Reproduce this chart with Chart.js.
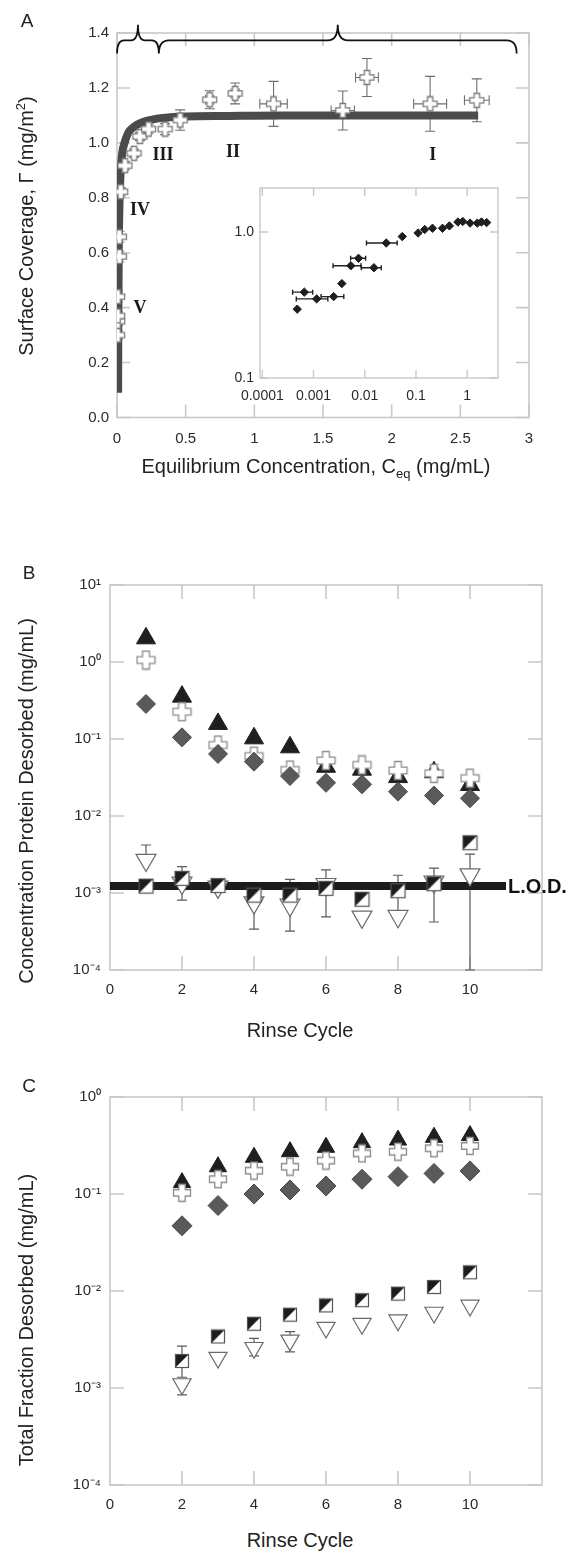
<!DOCTYPE html>
<html>
<head>
<meta charset="utf-8">
<script src="https://cdn.jsdelivr.net/npm/chart.js@4.4.1/dist/chart.umd.min.js"></script>
<style>
  body { margin: 0; background: #fff; }
  #page { position: relative; width: 568px; height: 1558px; overflow: hidden;
          font-family: "Liberation Sans", Arial, sans-serif; color: #222; }
  #page canvas { position: absolute; }
  .ytitle, .xtitle, .letter { position: absolute; white-space: nowrap; line-height: 1; }
  .ytitle { font-size: 20px; transform: translate(-50%, -50%) rotate(-90deg); }
  .xtitle { font-size: 20px; transform: translate(-50%, -50%); }
  .letter { font-size: 19px; transform: translate(-50%, -50%); }
  sup, sub { font-size: 13px; line-height: 0; }
</style>
</head>
<body>
<div id="page">
  <canvas id="chartA" width="568" height="480" style="left:0;top:0"></canvas>
  <canvas id="chartInset" width="320" height="240" style="left:190px;top:170px"></canvas>
  <canvas id="chartB" width="568" height="480" style="left:0;top:540px"></canvas>
  <canvas id="chartC" width="568" height="460" style="left:0;top:1060px"></canvas>

  <div class="letter" style="left:27px;top:20px">A</div>
  <div class="letter" style="left:29px;top:572px">B</div>
  <div class="letter" style="left:29px;top:1085px">C</div>

  <div class="ytitle" style="left:26px;top:226px">Surface Coverage, Γ (mg/m<sup>2</sup>)</div>
  <div class="xtitle" style="left:316px;top:466px">Equilibrium Concentration, C<sub>eq</sub> (mg/mL)</div>
  <div class="ytitle" style="left:26px;top:801px">Concentration Protein Desorbed (mg/mL)</div>
  <div class="xtitle" style="left:300px;top:1030px">Rinse Cycle</div>
  <div class="ytitle" style="left:26px;top:1320px">Total Fraction Desorbed (mg/mL)</div>
  <div class="xtitle" style="left:300px;top:1540px">Rinse Cycle</div>
</div>

<script>
// ---- isotherm (panel A) ----
const isoC = [0.005, 0.005, 0.005, 0.005, 0.017, 0.017, 0.027, 0.058, 0.124, 0.167,
              0.23, 0.35, 0.46, 0.675, 0.86, 1.14, 1.644, 1.82, 2.28, 2.62];
const isoGamma = [0.30, 0.35, 0.37, 0.44, 0.586, 0.658, 0.822, 0.917, 0.962, 1.023,
                  1.05, 1.05, 1.083, 1.157, 1.18, 1.142, 1.118, 1.238, 1.142, 1.155];
const isoCErr = [0, 0, 0, 0, 0, 0, 0, 0, 0, 0, 0, 0, 0.012, 0.03, 0.03, 0.1, 0.085, 0.083, 0.12, 0.09];
const isoGammaErr = [0.015, 0.015, 0.015, 0.02, 0.02, 0.02, 0.015, 0.015, 0.015, 0.015,
                     0.015, 0.02, 0.037, 0.033, 0.038, 0.082, 0.071, 0.069, 0.1, 0.078];
// fitted isotherm
const fitC = [0.008, 0.01, 0.013, 0.018, 0.025, 0.037, 0.055, 0.08, 0.11, 0.143,
              0.19, 0.24, 0.3, 0.385, 0.5, 0.8, 1.2, 1.8, 2.63];
const fitGamma = [0.09, 0.4, 0.62, 0.78, 0.88, 0.96, 1.0, 1.035, 1.053, 1.065,
                  1.076, 1.083, 1.089, 1.093, 1.096, 1.098, 1.1, 1.1, 1.1];
const regionNames = ["V", "IV", "III", "II", "I"];
const regionC = [0.167, 0.167, 0.335, 0.844, 2.3];
const regionGamma = [0.399, 0.756, 0.956, 0.967, 0.956];
const braceSpans = [[0, 0.305], [0.305, 2.91]];
const xTicksA = [0, 0.5, 1, 1.5, 2, 2.5, 3];
const yTicksA = [0, 0.2, 0.4, 0.6, 0.8, 1.0, 1.2, 1.4];

// ---- inset, log-log ----
const insetC = [4.8e-4, 6.6e-4, 1.15e-3, 2.47e-3, 3.57e-3, 5.35e-3, 7.55e-3, 1.51e-2, 2.63e-2, 5.4e-2,
                0.11, 0.148, 0.21, 0.33, 0.45, 0.66, 0.82, 1.14, 1.58, 1.9, 2.4];
const insetGamma = [0.296, 0.387, 0.348, 0.361, 0.443, 0.587, 0.66, 0.569, 0.84, 0.93,
                    0.984, 1.04, 1.06, 1.06, 1.1, 1.17, 1.18, 1.15, 1.15, 1.17, 1.16];
const insetCLo = [null, 3.9e-4, 4.6e-4, 1.4e-3, null, 2.4e-3, 5.3e-3, 8.6e-3, 1.08e-2, null,
                  null, null, null, null, null, null, null, null, null, null, null];
const insetCHi = [null, 9.6e-4, 1.9e-3, 3.9e-3, null, 8.4e-3, 1.04e-2, 2.1e-2, 4.3e-2, null,
                  null, null, null, null, null, null, null, null, null, null, null];
const xTicksInset = [1e-4, 1e-3, 1e-2, 0.1, 1];
const yTicksInset = [0.1, 1];

// ---- protein desorbed per rinse (panel B) ----
const rinseB = [1, 2, 3, 4, 5, 6, 7, 8, 9, 10];
const desTri = [2.03, 0.355, 0.157, 0.102, 0.078, 0.0436, 0.04, 0.032, 0.037, 0.0253];
const desCross = [1.06, 0.226, 0.0835, 0.06, 0.0395, 0.0525, 0.046, 0.039, 0.0358, 0.031];
const desDiamond = [0.285, 0.105, 0.064, 0.0508, 0.033, 0.027, 0.0258, 0.0207, 0.0184, 0.017];
const desSquare = [1.23e-3, 1.55e-3, 1.25e-3, 9.4e-4, 9.4e-4, 1.15e-3, 8.3e-4, 1.07e-3, 1.32e-3, 4.5e-3];
const desInvTri = [2.68e-3, 1.35e-3, 1.2e-3, 7.5e-4, 7e-4, 1.3e-3, 4.9e-4, 5e-4, 1.4e-3, 1.73e-3];
const desInvTriLo = [null, 8.1e-4, 1.15e-3, 3.4e-4, 3.2e-4, 4.9e-4, null, null, 4.2e-4, 1e-4];
const desInvTriHi = [4.2e-3, 2.2e-3, 1.3e-3, null, 1.5e-3, 2e-3, null, 1.7e-3, 2.1e-3, 3.2e-3];
const lodValue = 1.23e-3;
const lodSpan = [0, 11];
const yTicksB = [1e-4, 1e-3, 1e-2, 1e-1, 1, 10];

// ---- cumulative fraction desorbed (panel C) ----
const rinseC = [2, 3, 4, 5, 6, 7, 8, 9, 10];
const totTri = [0.131, 0.191, 0.239, 0.273, 0.303, 0.338, 0.36, 0.384, 0.40];
const totCross = [0.103, 0.142, 0.174, 0.191, 0.221, 0.262, 0.273, 0.296, 0.313];
const totDiamond = [0.047, 0.076, 0.1, 0.11, 0.121, 0.142, 0.151, 0.163, 0.173];
const totSquare = [1.9e-3, 3.4e-3, 4.6e-3, 5.7e-3, 7.1e-3, 8.05e-3, 9.4e-3, 1.1e-2, 1.56e-2];
const totSquareLo = [1.29e-3, null, null, null, null, null, null, null, null];
const totSquareHi = [2.7e-3, null, null, null, null, null, null, null, null];
const totInvTri = [1.1e-3, 2.06e-3, 2.6e-3, 3.1e-3, 4.2e-3, 4.6e-3, 5e-3, 6e-3, 7.1e-3];
const totInvTriLo = [8.5e-4, null, 2.14e-3, 2.36e-3, null, null, null, null, null];
const totInvTriHi = [null, null, 3.25e-3, 3.82e-3, null, null, null, null, null];
const yTicksC = [1e-4, 1e-3, 1e-2, 1e-1, 1];

const xTicksRinse = [0, 2, 4, 6, 8, 10];

Chart.defaults.font.family = '"Liberation Sans", Arial, sans-serif';
Chart.defaults.font.size = 15;
Chart.defaults.color = '#2a2a2a';
Chart.defaults.animation = false;
Chart.defaults.events = [];
Chart.defaults.plugins.legend.display = false;
Chart.defaults.plugins.tooltip.enabled = false;

// open plus-shaped marker
function crossMarker(size, color) {
  const c = document.createElement('canvas');
  c.width = c.height = size + 2;
  const g = c.getContext('2d');
  const m = (size + 2) / 2, h = size / 2 - 0.5, t = size * 0.18;
  const pts = [[-t, -h], [t, -h], [t, -t], [h, -t], [h, t], [t, t], [t, h], [-t, h], [-t, t], [-h, t], [-h, -t], [-t, -t]];
  g.beginPath();
  pts.forEach(([dx, dy], i) => i ? g.lineTo(m + dx, m + dy) : g.moveTo(m + dx, m + dy));
  g.closePath();
  g.fillStyle = '#fff';
  g.fill();
  g.strokeStyle = color;
  g.lineWidth = 1.3;
  g.stroke();
  return c;
}

// square with the upper-left half filled
function halfSquare(size) {
  const c = document.createElement('canvas');
  c.width = c.height = size + 2;
  const g = c.getContext('2d');
  g.fillStyle = '#fff';
  g.fillRect(1, 1, size, size);
  g.beginPath();
  g.moveTo(1, 1);
  g.lineTo(1 + size, 1);
  g.lineTo(1, 1 + size);
  g.closePath();
  g.fillStyle = '#1c1c1c';
  g.fill();
  g.strokeStyle = '#555';
  g.lineWidth = 1.2;
  g.strokeRect(1.5, 1.5, size - 1, size - 1);
  return c;
}

const pts = (xs, ys) => xs.map((x, i) => ({ x: x, y: ys[i] }));
const fixedTicks = (list) => (s) => { s.ticks = list.map(v => ({ value: v })); };
const supMap = { '-': '⁻', '0': '⁰', '1': '¹', '2': '²', '3': '³', '4': '⁴' };
const pow10Label = (v) => '10' + String(Math.round(Math.log10(v))).split('').map(ch => supMap[ch]).join('');

// plot box plus short inward tick marks on all four sides
const framePlugin = {
  id: 'frame',
  beforeDatasetsDraw(chart, args, opts) {
    const { ctx, chartArea: a, scales } = chart;
    const L = opts.len || 12;
    ctx.save();
    ctx.strokeStyle = opts.color || '#c8c8c8';
    ctx.lineWidth = opts.width || 1.6;
    ctx.strokeRect(a.left, a.top, a.right - a.left, a.bottom - a.top);
    ctx.beginPath();
    (opts.xTicks || []).forEach(v => {
      const x = scales.x.getPixelForValue(v);
      ctx.moveTo(x, a.bottom); ctx.lineTo(x, a.bottom - L);
      ctx.moveTo(x, a.top); ctx.lineTo(x, a.top + L);
    });
    (opts.yTicks || []).forEach(v => {
      const y = scales.y.getPixelForValue(v);
      ctx.moveTo(a.left, y); ctx.lineTo(a.left + L, y);
      ctx.moveTo(a.right, y); ctx.lineTo(a.right - L, y);
    });
    ctx.stroke();
    ctx.restore();
  }
};

// error bars from lo/hi arrays (null = no bar end on that side)
const errPlugin = {
  id: 'errbars',
  beforeDatasetsDraw(chart, args, opts) {
    const { ctx, chartArea: a, scales: { x: sx, y: sy } } = chart;
    const cap = opts.cap || 5;
    ctx.save();
    ctx.beginPath();
    ctx.rect(a.left, a.top - 1, a.right - a.left, a.bottom - a.top + 2);
    ctx.clip();
    ctx.strokeStyle = opts.color || '#666';
    ctx.lineWidth = opts.width || 1.1;
    ctx.beginPath();
    (opts.sets || []).forEach(s => {
      s.x.forEach((xv, i) => {
        const px = sx.getPixelForValue(xv), py = sy.getPixelForValue(s.y[i]);
        if (s.yLo || s.yHi) {
          const lo = s.yLo ? s.yLo[i] : null, hi = s.yHi ? s.yHi[i] : null;
          if (lo != null || hi != null) {
            const p0 = sy.getPixelForValue(lo != null ? lo : s.y[i]);
            const p1 = sy.getPixelForValue(hi != null ? hi : s.y[i]);
            ctx.moveTo(px, p0); ctx.lineTo(px, p1);
            if (lo != null) { ctx.moveTo(px - cap, p0); ctx.lineTo(px + cap, p0); }
            if (hi != null) { ctx.moveTo(px - cap, p1); ctx.lineTo(px + cap, p1); }
          }
        }
        if (s.xLo || s.xHi) {
          const lo = s.xLo ? s.xLo[i] : null, hi = s.xHi ? s.xHi[i] : null;
          if (lo != null || hi != null) {
            const q0 = sx.getPixelForValue(lo != null ? lo : xv);
            const q1 = sx.getPixelForValue(hi != null ? hi : xv);
            const c2 = s.xCap != null ? s.xCap : cap;
            ctx.moveTo(q0, py); ctx.lineTo(q1, py);
            if (lo != null) { ctx.moveTo(q0, py - c2); ctx.lineTo(q0, py + c2); }
            if (hi != null) { ctx.moveTo(q1, py - c2); ctx.lineTo(q1, py + c2); }
          }
        }
      });
    });
    ctx.stroke();
    ctx.restore();
  }
};

// braces above the isotherm and the region numerals
const isoNotes = {
  id: 'isoNotes',
  afterDraw(chart) {
    const { ctx, scales: { x: sx, y: sy } } = chart;
    ctx.save();
    ctx.strokeStyle = '#111';
    ctx.lineWidth = 1.8;
    const yb = sy.getPixelForValue(1.325), ya = sy.getPixelForValue(1.373), yt = sy.getPixelForValue(1.43);
    ctx.beginPath();
    braceSpans.forEach(([c0, c1]) => {
      const x0 = sx.getPixelForValue(c0), x1 = sx.getPixelForValue(c1);
      const xm = (x0 + x1) / 2, r = Math.min(10, (x1 - x0) / 6);
      ctx.moveTo(x0, yb);
      ctx.quadraticCurveTo(x0, ya, x0 + r, ya);
      ctx.lineTo(xm - r, ya);
      ctx.quadraticCurveTo(xm, ya, xm, yt);
      ctx.quadraticCurveTo(xm, ya, xm + r, ya);
      ctx.lineTo(x1 - r, ya);
      ctx.quadraticCurveTo(x1, ya, x1, yb);
    });
    ctx.stroke();
    ctx.fillStyle = '#1a1a1a';
    ctx.font = 'bold 18px "Liberation Serif", "Times New Roman", serif';
    ctx.textAlign = 'center';
    ctx.textBaseline = 'middle';
    regionNames.forEach((t, i) => {
      ctx.fillText(t, sx.getPixelForValue(regionC[i]), sy.getPixelForValue(regionGamma[i]));
    });
    ctx.restore();
  }
};

const lodLabel = {
  id: 'lodLabel',
  afterDraw(chart) {
    const { ctx, scales: { x: sx, y: sy } } = chart;
    ctx.save();
    ctx.fillStyle = '#111';
    ctx.font = 'bold 20px "Liberation Sans", Arial, sans-serif';
    ctx.textAlign = 'left';
    ctx.textBaseline = 'middle';
    ctx.fillText('L.O.D.', sx.getPixelForValue(lodSpan[1]) + 2, sy.getPixelForValue(lodValue) + 1);
    ctx.restore();
  }
};

const noGrid = { display: false, drawTicks: false };

// ---------- panel A ----------
new Chart(document.getElementById('chartA'), {
  type: 'scatter',
  data: {
    datasets: [
      { data: pts(isoC, isoGamma), pointStyle: crossMarker(15, '#7a7a7a'), order: 1 },
      { data: pts(fitC, fitGamma), showLine: true, borderColor: '#4b4b4b', borderWidth: 8,
        borderCapStyle: 'butt', borderJoinStyle: 'round', pointRadius: 0,
        cubicInterpolationMode: 'monotone', order: 2 }
    ]
  },
  options: {
    responsive: false,
    layout: { padding: { left: 0, right: 39, top: 33, bottom: 0 } },
    scales: {
      x: {
        type: 'linear', min: 0, max: 3,
        afterBuildTicks: fixedTicks(xTicksA),
        afterFit: (s) => { s.height = 62.5; },
        ticks: { padding: 12, callback: (v) => String(v) },
        grid: noGrid, border: { display: false }
      },
      y: {
        type: 'linear', min: 0, max: 1.4,
        afterBuildTicks: fixedTicks(yTicksA),
        afterFit: (s) => { s.width = 117; },
        ticks: { padding: 8, callback: (v) => v.toFixed(1) },
        grid: noGrid, border: { display: false }
      }
    },
    plugins: {
      frame: { xTicks: xTicksA, yTicks: yTicksA, len: 13 },
      errbars: {
        color: '#6f6f6f', cap: 5,
        sets: [{
          x: isoC, y: isoGamma,
          yLo: isoGamma.map((g, i) => isoGammaErr[i] ? g - isoGammaErr[i] : null),
          yHi: isoGamma.map((g, i) => isoGammaErr[i] ? g + isoGammaErr[i] : null),
          xLo: isoC.map((c, i) => isoCErr[i] ? c - isoCErr[i] : null),
          xHi: isoC.map((c, i) => isoCErr[i] ? c + isoCErr[i] : null)
        }]
      }
    }
  },
  plugins: [framePlugin, errPlugin, isoNotes]
});

// ---------- inset ----------
new Chart(document.getElementById('chartInset'), {
  type: 'scatter',
  data: {
    datasets: [
      { data: pts(insetC, insetGamma), pointStyle: 'rectRot', radius: 4.2,
        backgroundColor: '#1e1e1e', borderColor: '#1e1e1e', borderWidth: 1 }
    ]
  },
  options: {
    responsive: false,
    layout: { padding: { left: 0, right: 12, top: 18, bottom: 0 } },
    scales: {
      x: {
        type: 'logarithmic', min: 0.00009, max: 4,
        afterBuildTicks: fixedTicks(xTicksInset),
        afterFit: (s) => { s.height = 32; },
        ticks: { padding: 10, font: { size: 14 },
                 callback: (v) => v >= 1 ? String(v) : v.toFixed(Math.round(-Math.log10(v))) },
        grid: noGrid, border: { display: false }
      },
      y: {
        type: 'logarithmic', min: 0.1, max: 2,
        afterBuildTicks: fixedTicks(yTicksInset),
        afterFit: (s) => { s.width = 70; },
        ticks: { padding: 6, font: { size: 14 }, callback: (v) => v.toFixed(1) },
        grid: noGrid, border: { display: false }
      }
    },
    plugins: {
      frame: { xTicks: xTicksInset, yTicks: yTicksInset, len: 8, width: 1.4 },
      errbars: { color: '#222', width: 1.4, cap: 3,
                 sets: [{ x: insetC, y: insetGamma, xLo: insetCLo, xHi: insetCHi, xCap: 2.5 }] }
    }
  },
  plugins: [framePlugin, errPlugin]
});

// ---------- shared rinse-cycle layout for B and C ----------
function rinseOptions(yMin, yMax, yTicks, padTop, axisH, bars) {
  return {
    responsive: false,
    layout: { padding: { left: 0, right: 26, top: padTop, bottom: 0 } },
    scales: {
      x: {
        type: 'linear', min: 0, max: 12,
        afterBuildTicks: fixedTicks(xTicksRinse),
        afterFit: (s) => { s.height = axisH; },
        ticks: { padding: 11, callback: (v) => String(v) },
        grid: noGrid, border: { display: false }
      },
      y: {
        type: 'logarithmic', min: yMin, max: yMax,
        afterBuildTicks: fixedTicks(yTicks),
        afterFit: (s) => { s.width = 110; },
        ticks: { padding: 9, callback: pow10Label },
        grid: noGrid, border: { display: false }
      }
    },
    plugins: {
      frame: { xTicks: xTicksRinse.slice(1), yTicks: yTicks, len: 14 },
      errbars: { color: '#5a5a5a', width: 1.2, cap: 5, sets: bars }
    }
  };
}

// ---------- panel B ----------
new Chart(document.getElementById('chartB'), {
  type: 'scatter',
  data: {
    datasets: [
      { data: pts(rinseB, desDiamond), pointStyle: 'rectRot', radius: 9.5,
        backgroundColor: '#5a5a5a', borderColor: '#4a4a4a', borderWidth: 1, order: 1 },
      { data: pts(rinseB, desCross), pointStyle: crossMarker(19, '#8c8c8c'), order: 2 },
      { data: pts(rinseB, desTri), pointStyle: 'triangle', radius: 11,
        backgroundColor: '#1f1f1f', borderColor: '#1f1f1f', borderWidth: 1, order: 3 },
      { data: pts(rinseB, desSquare), pointStyle: halfSquare(15), order: 4 },
      { data: pts(rinseB, desInvTri), pointStyle: 'triangle', rotation: 180, radius: 11.5,
        backgroundColor: '#fff', borderColor: '#6a6a6a', borderWidth: 1.2, order: 5 },
      { data: pts(lodSpan, [lodValue, lodValue]), showLine: true, pointRadius: 0,
        borderColor: '#1c1c1c', borderWidth: 8, borderCapStyle: 'butt', order: 6 }
    ]
  },
  options: rinseOptions(1e-4, 10, yTicksB, 45, 50,
    [{ x: rinseB, y: desInvTri, yLo: desInvTriLo, yHi: desInvTriHi }]),
  plugins: [framePlugin, errPlugin, lodLabel]
});

// ---------- panel C ----------
new Chart(document.getElementById('chartC'), {
  type: 'scatter',
  data: {
    datasets: [
      { data: pts(rinseC, totDiamond), pointStyle: 'rectRot', radius: 10,
        backgroundColor: '#5a5a5a', borderColor: '#4a4a4a', borderWidth: 1, order: 1 },
      { data: pts(rinseC, totCross), pointStyle: crossMarker(18, '#8c8c8c'), order: 2 },
      { data: pts(rinseC, totTri), pointStyle: 'triangle', radius: 10,
        backgroundColor: '#1f1f1f', borderColor: '#1f1f1f', borderWidth: 1, order: 3 },
      { data: pts(rinseC, totSquare), pointStyle: halfSquare(14), order: 4 },
      { data: pts(rinseC, totInvTri), pointStyle: 'triangle', rotation: 180, radius: 10.5,
        backgroundColor: '#fff', borderColor: '#6a6a6a', borderWidth: 1.2, order: 5 }
    ]
  },
  options: rinseOptions(1e-4, 1, yTicksC, 37, 35, [
    { x: rinseC, y: totSquare, yLo: totSquareLo, yHi: totSquareHi },
    { x: rinseC, y: totInvTri, yLo: totInvTriLo, yHi: totInvTriHi }
  ]),
  plugins: [framePlugin, errPlugin]
});
</script>
</body>
</html>
